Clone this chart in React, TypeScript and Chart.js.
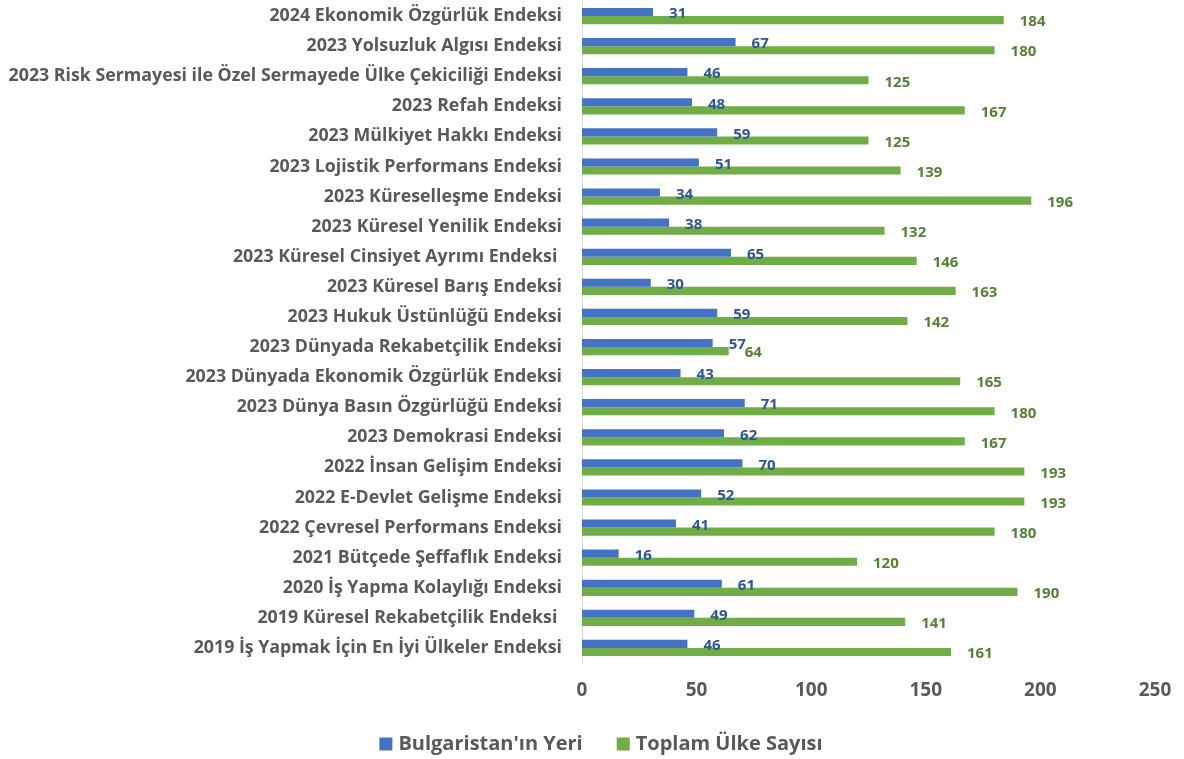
import React, { useEffect, useRef } from "react";
import { Chart, registerables } from "chart.js";

Chart.register(...registerables);

const categories = [
  "2024 Ekonomik Özgürlük Endeksi",
  "2023 Yolsuzluk Algısı Endeksi",
  "2023 Risk Sermayesi ile Özel Sermayede Ülke Çekiciliği Endeksi",
  "2023 Refah Endeksi",
  "2023 Mülkiyet Hakkı Endeksi",
  "2023 Lojistik Performans Endeksi",
  "2023 Küreselleşme Endeksi",
  "2023 Küresel Yenilik Endeksi",
  "2023 Küresel Cinsiyet Ayrımı Endeksi ",
  "2023 Küresel Barış Endeksi",
  "2023 Hukuk Üstünlüğü Endeksi",
  "2023 Dünyada Rekabetçilik Endeksi",
  "2023 Dünyada Ekonomik Özgürlük Endeksi",
  "2023 Dünya Basın Özgürlüğü Endeksi",
  "2023 Demokrasi Endeksi",
  "2022 İnsan Gelişim Endeksi",
  "2022 E-Devlet Gelişme Endeksi",
  "2022 Çevresel Performans Endeksi",
  "2021 Bütçede Şeffaflık Endeksi",
  "2020 İş Yapma Kolaylığı Endeksi",
  "2019 Küresel Rekabetçilik Endeksi ",
  "2019 İş Yapmak İçin En İyi Ülkeler Endeksi",
];

const bulgariaRank = [31, 67, 46, 48, 59, 51, 34, 38, 65, 30, 59, 57, 43, 71, 62, 70, 52, 41, 16, 61, 49, 46];
const totalCountries = [184, 180, 125, 167, 125, 139, 196, 132, 146, 163, 142, 64, 165, 180, 167, 193, 193, 180, 120, 190, 141, 161];

const seriesNames = ["Bulgaristan'ın Yeri", "Toplam Ülke Sayısı"];
const seriesColors = ["#4472C4", "#70AD47"];
const labelColors = ["#2F5597", "#548235"];
const xTicks = [0, 50, 100, 150, 200, 250];

const FONT = "'Open Sans', 'Noto Sans', sans-serif";
const TEXT = "#595959";

const labelPlugin = {
  id: "barValueLabels",
  afterDatasetsDraw(chart: any) {
    const ctx = chart.ctx;
    ctx.save();
    ctx.font = `bold 15px ${FONT}`;
    ctx.textAlign = "left";
    ctx.textBaseline = "middle";
    chart.data.datasets.forEach((ds: any, di: number) => {
      const meta = chart.getDatasetMeta(di);
      ctx.fillStyle = labelColors[di];
      meta.data.forEach((el: any, i: number) => {
        ctx.fillText(String(ds.data[i]), el.x + 16, el.y + 2);
      });
    });
    ctx.restore();
  },
};

const legendPlugin = {
  id: "bottomLegend",
  afterDraw(chart: any) {
    const ctx = chart.ctx;
    const box = 13;
    const textGap = 6;
    const itemGap = 34;
    ctx.save();
    ctx.font = `bold 20px ${FONT}`;
    ctx.textBaseline = "middle";
    ctx.textAlign = "left";
    const widths = chart.data.datasets.map(
      (ds: any) => box + textGap + ctx.measureText(ds.label).width
    );
    const total = widths.reduce((a: number, b: number) => a + b, 0) + itemGap * (widths.length - 1);
    let x = chart.width / 2 + 9 - total / 2;
    const y = chart.height - 15;
    chart.data.datasets.forEach((ds: any, i: number) => {
      ctx.fillStyle = ds.backgroundColor;
      ctx.fillRect(x, y - box / 2, box, box);
      ctx.fillStyle = TEXT;
      ctx.fillText(ds.label, x + box + textGap, y);
      x += widths[i] + itemGap;
    });
    ctx.restore();
  },
};

export default function App() {
  const ref = useRef<HTMLCanvasElement>(null);
  useEffect(() => {
    if (!ref.current) return;
    const chart = new Chart(ref.current, {
      type: "bar",
      data: {
        labels: categories,
        datasets: seriesNames.map((name, i) => ({
          label: name,
          data: i === 0 ? bulgariaRank : totalCountries,
          backgroundColor: seriesColors[i],
          categoryPercentage: 0.54,
          barPercentage: 1,
        })),
      },
      plugins: [labelPlugin, legendPlugin],
      options: {
        indexAxis: "y",
        animation: false,
        responsive: true,
        maintainAspectRatio: false,
        layout: { padding: { left: 0, right: 29, top: 1, bottom: 29 } },
        scales: {
          x: {
            min: 0,
            max: 250,
            afterBuildTicks: (scale: any) => {
              scale.ticks = xTicks.map((v) => ({ value: v }));
            },
            afterFit: (scale: any) => {
              scale.height = 67;
              scale.paddingLeft = 0;
              scale.paddingRight = 0;
            },
            grid: { display: false, drawTicks: false },
            border: { display: false },
            ticks: {
              color: TEXT,
              font: { family: FONT, size: 19, weight: "bold" },
              padding: 16,
              maxRotation: 0,
            },
          },
          y: {
            afterFit: (scale: any) => {
              scale.width = 582;
              scale.paddingTop = 0;
              scale.paddingBottom = 0;
            },
            grid: { display: false, drawTicks: false },
            border: { display: true, color: "#D9D9D9", width: 1 },
            ticks: {
              color: TEXT,
              font: { family: FONT, size: 17.8, weight: "bold" },
              padding: 20,
              autoSkip: false,
            },
          },
        },
        plugins: {
          legend: { display: false },
          tooltip: { enabled: false },
        },
      },
    } as any);
    return () => chart.destroy();
  }, []);
  return (
    <div style={{ position: "absolute", left: 0, top: 0, width: 1184, height: 759 }}>
      <canvas ref={ref} />
    </div>
  );
}
